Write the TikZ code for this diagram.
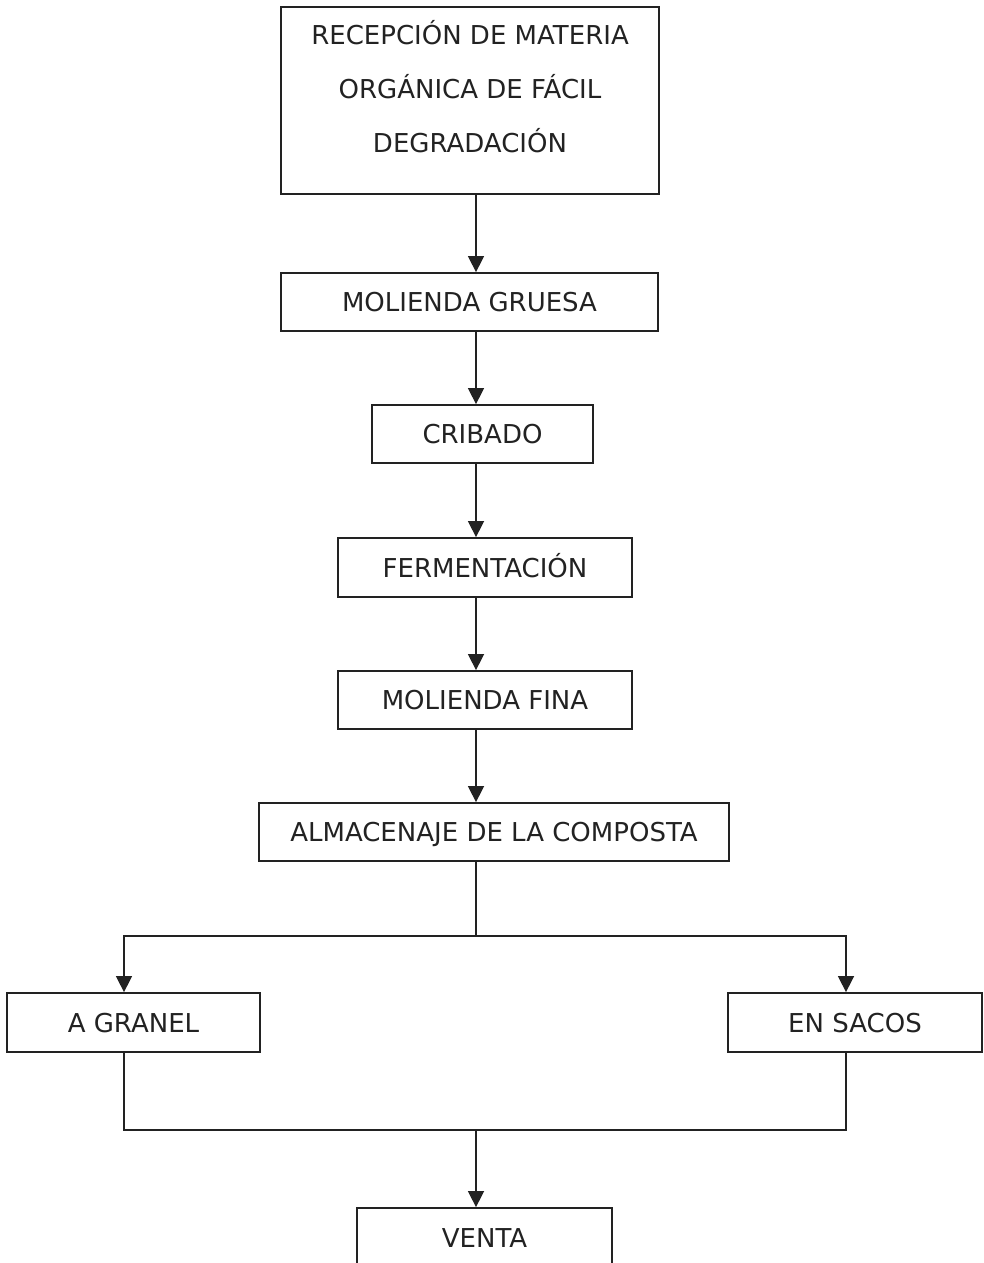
\documentclass[tikz,border=0pt]{standalone}
\usepackage{fontspec}
\setmainfont{DejaVu Sans}
\usetikzlibrary{arrows.meta}
\definecolor{ink}{HTML}{222222}
\tikzset{
  box/.style={draw=ink, line width=1.8pt, inner sep=0pt, text=ink,
    font=\fontsize{26}{54}\selectfont, text height=19pt, text depth=0pt},
  conn/.style={draw=ink, line width=1.5pt},
  arr/.style={conn, -{Triangle[length=16pt,width=16pt]}}
}
\begin{document}
\begin{tikzpicture}[x=1pt,y=-1pt]
\useasboundingbox (0,0) rectangle (984,1263);
\node[box, minimum width=378pt, minimum height=187pt] (b1) at (470,100.5) {};
\node[text=ink, align=center, font=\fontsize{26}{54}\selectfont, inner sep=0pt] (b1t) at (470,87)
  {RECEPCIÓN DE MATERIA\\ORGÁNICA DE FÁCIL\\DEGRADACIÓN};
\node[box, minimum width=377pt, minimum height=58pt] (b2) at (469.5,302) {MOLIENDA GRUESA};
\node[box, minimum width=221pt, minimum height=58pt] (b3) at (482.5,434) {CRIBADO};
\node[box, minimum width=294pt, minimum height=59pt] (b4) at (485,567.5) {FERMENTACIÓN};
\node[box, minimum width=294pt, minimum height=58pt] (b5) at (485,700) {MOLIENDA FINA};
\node[box, minimum width=470pt, minimum height=58pt] (b6) at (494,832) {ALMACENAJE DE LA COMPOSTA};
\node[box, minimum width=253pt, minimum height=59pt] (gran) at (133.5,1022.5) {A GRANEL};
\node[box, minimum width=254pt, minimum height=59pt] (sacos) at (855,1022.5) {EN SACOS};
\node[box, minimum width=255pt, minimum height=60pt] (venta) at (484.5,1238) {VENTA};
\coordinate (spine) at (476,0);
\coordinate (split) at (476,936);
\coordinate (join) at (476,1130);
\coordinate (gx) at (124,0);
\coordinate (sx) at (846,0);
\draw[arr] (b1.south -| spine) -- (b2.north -| spine);
\draw[arr] (b2.south -| spine) -- (b3.north -| spine);
\draw[arr] (b3.south -| spine) -- (b4.north -| spine);
\draw[arr] (b4.south -| spine) -- (b5.north -| spine);
\draw[arr] (b5.south -| spine) -- (b6.north -| spine);
\draw[conn] (b6.south -| spine) -- (split);
\draw[arr] (split) -- (split -| gx) -- (gran.north -| gx);
\draw[arr] (split) -- (split -| sx) -- (sacos.north -| sx);
\draw[conn] (gran.south -| gx) -- (join -| gx) -- (join -| sx) -- (sacos.south -| sx);
\draw[arr] (join) -- (venta.north -| join);
\end{tikzpicture}
\end{document}
